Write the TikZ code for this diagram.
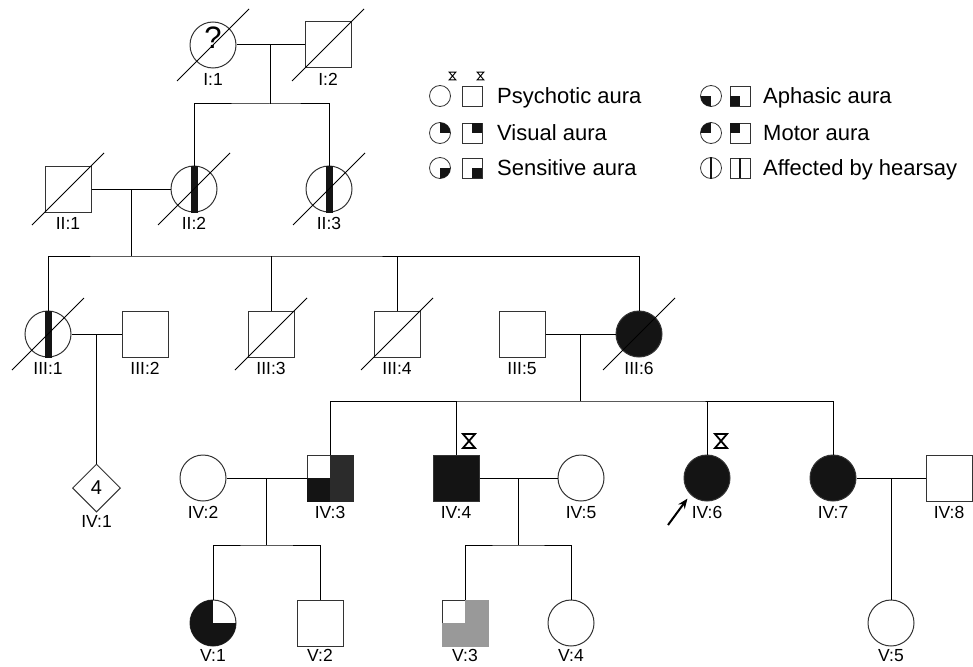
\documentclass[tikz,border=0pt]{standalone}
\usepackage{fontspec}
\setmainfont{Liberation Sans}
\usepackage{tikz}
\usetikzlibrary{positioning,shapes,arrows,arrows.meta,calc}
\definecolor{affblack}{rgb}{0.08,0.08,0.08}
\definecolor{affdark}{rgb}{0.17,0.17,0.17}
\definecolor{affgray}{rgb}{0.6,0.6,0.6}
\definecolor{lineg}{rgb}{0.2,0.2,0.2}
\tikzstyle{male}=[%
      rectangle, draw=lineg, line width=1pt, fill=none,
      minimum size=46pt, inner sep=0pt
]
\tikzstyle{female}=[%
      circle, draw=lineg, line width=1pt, fill=none,
      minimum size=46pt, inner sep=0pt
]
\tikzstyle{sexless}=[%
      diamond, draw=lineg, line width=1pt, aspect=1,
      minimum size=48pt, inner sep=0pt, font=\fontsize{20}{20}\selectfont
]
\tikzstyle{lmale}=[male, minimum size=20pt, line width=0.8pt]
\tikzstyle{lfemale}=[female, minimum size=21pt, line width=0.8pt]
\tikzstyle{idlbl}=[font=\fontsize{17.5}{20}\selectfont, inner sep=2pt]
\tikzstyle{legtext}=[font=\fontsize{22}{24}\selectfont, anchor=base west, inner sep=0pt]
\tikzstyle{rel}=[line width=1pt, draw=black]
\tikzstyle{dead}=[line width=0.8pt, draw=black]
\tikzstyle{aff}=[fill=affblack]
\tikzset{hglass/.pic={\draw[line join=miter] (-6,-7) -- (6,-7) -- (-6,7) -- (6,7) -- cycle;}}

\begin{document}
\begin{tikzpicture}[x=1pt, y=-1pt, >={Stealth[length=10pt,width=8pt]}]
    \useasboundingbox (0,0) rectangle (973,666);

    % generation I
    \node[female] (I1) at (213,45) {};
    \node[male]   (I2) at (328,45) {};
    \node[font=\fontsize{31}{31}\selectfont, inner sep=0pt] (I1q) at (213,38) {?};

    % generation II
    \node[male]   (II1) at (68,189) {};
    \node[female] (II2) at (194,189) {};
    \node[female] (II3) at (329,189) {};

    % generation III
    \node[female]      (III1) at (48,334) {};
    \node[male]        (III2) at (145,334) {};
    \node[male]        (III3) at (271,334) {};
    \node[male]        (III4) at (397,334) {};
    \node[male]        (III5) at (522,334) {};
    \node[female, aff] (III6) at (639,334) {};

    % generation IV
    \node[sexless]     (IV1) at (96.5,488) {4};
    \node[female]      (IV2) at (203,478) {};
    \node[male]        (IV3) at (330,478) {};
    \node[male, aff]   (IV4) at (456,478) {};
    \node[female]      (IV5) at (581,478) {};
    \node[female, aff] (IV6) at (707,478) {};
    \node[female, aff] (IV7) at (833,478) {};
    \node[male]        (IV8) at (949,478) {};

    % generation V
    \node[female] (V1) at (213,623) {};
    \node[male]   (V2) at (320,623) {};
    \node[male]   (V3) at (465,623) {};
    \node[female] (V4) at (571,623) {};
    \node[female] (V5) at (891,623) {};

    % ids
    \node[idlbl] (I1l)   [below=3pt of I1]   {I:1};
    \node[idlbl] (I2l)   [below=3pt of I2]   {I:2};
    \node[idlbl] (II1l)  [below=3pt of II1]  {II:1};
    \node[idlbl] (II2l)  [below=3pt of II2]  {II:2};
    \node[idlbl] (II3l)  [below=3pt of II3]  {II:3};
    \node[idlbl] (III1l) [below=3pt of III1] {III:1};
    \node[idlbl] (III2l) [below=3pt of III2] {III:2};
    \node[idlbl] (III3l) [below=3pt of III3] {III:3};
    \node[idlbl] (III4l) [below=3pt of III4] {III:4};
    \node[idlbl] (III5l) [below=3pt of III5] {III:5};
    \node[idlbl] (III6l) [below=3pt of III6] {III:6};
    \node[idlbl] (IV1l)  [below=1pt of IV1]  {IV:1};
    \node[idlbl] (IV2l)  [below=3pt of IV2]  {IV:2};
    \node[idlbl] (IV3l)  [below=3pt of IV3]  {IV:3};
    \node[idlbl] (IV4l)  [below=3pt of IV4]  {IV:4};
    \node[idlbl] (IV5l)  [below=3pt of IV5]  {IV:5};
    \node[idlbl] (IV6l)  [below=3pt of IV6]  {IV:6};
    \node[idlbl] (IV7l)  [below=3pt of IV7]  {IV:7};
    \node[idlbl] (IV8l)  [below=3pt of IV8]  {IV:8};
    \node[idlbl] (V1l)   [below=1pt of V1]   {V:1};
    \node[idlbl] (V2l)   [below=1pt of V2]   {V:2};
    \node[idlbl] (V3l)   [below=1pt of V3]   {V:3};
    \node[idlbl] (V4l)   [below=1pt of V4]   {V:4};
    \node[idlbl] (V5l)   [below=1pt of V5]   {V:5};

    % partial fills
    \fill[affblack] ($(II2.north)+(-3.5,0)$) rectangle ($(II2.south)+(3.5,0)$);
    \fill[affblack] ($(II3.north)+(-3.5,0)$) rectangle ($(II3.south)+(3.5,0)$);
    \fill[affblack] ($(III1.north)+(-3.5,0)$) rectangle ($(III1.south)+(3.5,0)$);
    \fill[affblack] (IV3.west) rectangle (IV3.south);
    \fill[affdark] (IV3.north) rectangle (IV3.south east);
    \fill[affgray] (V3.west) rectangle (V3.south);
    \fill[affgray] (V3.north) rectangle (V3.south east);
    \begin{scope}
      \clip (V1) circle (23pt);
      \fill[affblack] ($(V1)+(-25,-25)$) rectangle ($(V1)+(0,25)$);
      \fill[affblack] (V1.center) rectangle ($(V1)+(25,25)$);
    \end{scope}

    % deceased
    \foreach \p in {I1,I2,II1,II2,II3,III1,III3,III4,III6}
      \draw[dead] ($(\p)+(-36,36)$) -- ($(\p)+(36,-36)$);

    % lines of descent
    \draw[rel] (I1.east) -- (I2.west);
    \coordinate (m1) at ($(I1.east)!0.5!(I2.west)$);
    \coordinate (s1) at ($(m1)+(0,59)$);
    \draw[rel] (m1) -- (s1);
    \draw[rel] (II2.north) |- (s1) -| (II3.north);

    \draw[rel] (II1.east) -- (II2.west);
    \coordinate (m2) at ($(II1.east)!0.5!(II2.west)$);
    \coordinate (s2) at ($(m2)+(0,67)$);
    \draw[rel] (m2) -- (s2);
    \draw[rel] (III1.north) |- (s2) -| (III6.north);
    \draw[rel] (III3.north) -- (III3.north |- s2);
    \draw[rel] (III4.north) -- (III4.north |- s2);

    \draw[rel] (III1.east) -- (III2.west);
    \coordinate (m3) at ($(III1.east)!0.5!(III2.west)$);
    \draw[rel] (m3) -- (IV1.north);

    \draw[rel] (III5.east) -- (III6.west);
    \coordinate (m4) at ($(III5.east)!0.5!(III6.west)$);
    \coordinate (s3) at ($(m4)+(0,67)$);
    \draw[rel] (m4) -- (s3);
    \draw[rel] (IV3.north) |- (s3) -| (IV7.north);
    \draw[rel] (IV4.north) -- (IV4.north |- s3);
    \draw[rel] (IV6.north) -- (IV6.north |- s3);

    \draw[rel] (IV2.east) -- (IV3.west);
    \coordinate (m5) at ($(IV2.east)!0.5!(IV3.west)$);
    \coordinate (s4) at ($(m5)+(0,67)$);
    \draw[rel] (m5) -- (s4);
    \draw[rel] (V1.north) |- (s4) -| (V2.north);

    \draw[rel] (IV4.east) -- (IV5.west);
    \coordinate (m6) at ($(IV4.east)!0.5!(IV5.west)$);
    \coordinate (s5) at ($(m6)+(0,67)$);
    \draw[rel] (m6) -- (s5);
    \draw[rel] (V3.north) |- (s5) -| (V4.north);

    \draw[rel] (IV7.east) -- (IV8.west);
    \coordinate (m7) at ($(IV7.east)!0.5!(IV8.west)$);
    \draw[rel] (m7) -- (V5.north);

    % psychotic aura and proband
    \pic[line width=1.8pt] at (469,441) {hglass};
    \pic[line width=1.8pt] at (721,441) {hglass};
    \coordinate (prb) at (668,525);
    \draw[->, line width=2pt, shorten >=5pt] (prb) -- (IV6.south west);

    % legend
    \node[lfemale] (lgPsyF) at (440,96) {};
    \node[lmale]   (lgPsyM) at (472,96) {};
    \node[legtext] (lgPsy)  at (497,103) {Psychotic aura};
    \pic[scale=0.55, line width=0.9pt] at (452.5,76) {hglass};
    \pic[scale=0.55, line width=0.9pt] at (480.5,76) {hglass};

    \node[lfemale] (lgVisF) at (440,133) {};
    \node[lmale]   (lgVisM) at (472,133) {};
    \node[legtext] (lgVis)  at (497,140) {Visual aura};
    \begin{scope}
      \clip (lgVisF) circle (10.5pt);
      \fill[affblack] (lgVisF.center) rectangle ($(lgVisF)+(11,-11)$);
    \end{scope}
    \fill[affblack] (lgVisM.center) rectangle (lgVisM.north east);

    \node[lfemale] (lgSenF) at (440,168) {};
    \node[lmale]   (lgSenM) at (472,168) {};
    \node[legtext] (lgSen)  at (497,175) {Sensitive aura};
    \begin{scope}
      \clip (lgSenF) circle (10.5pt);
      \fill[affblack] (lgSenF.center) rectangle ($(lgSenF)+(11,11)$);
    \end{scope}
    \fill[affblack] (lgSenM.center) rectangle (lgSenM.south east);

    \node[lfemale] (lgAphF) at (711,96) {};
    \node[lmale]   (lgAphM) at (740,96) {};
    \node[legtext] (lgAph)  at (763,103) {Aphasic aura};
    \begin{scope}
      \clip (lgAphF) circle (10.5pt);
      \fill[affblack] (lgAphF.center) rectangle ($(lgAphF)+(-11,11)$);
    \end{scope}
    \fill[affblack] (lgAphM.center) rectangle (lgAphM.south west);

    \node[lfemale] (lgMotF) at (711,133) {};
    \node[lmale]   (lgMotM) at (740,133) {};
    \node[legtext] (lgMot)  at (763,140) {Motor aura};
    \begin{scope}
      \clip (lgMotF) circle (10.5pt);
      \fill[affblack] (lgMotF.center) rectangle ($(lgMotF)+(-11,-11)$);
    \end{scope}
    \fill[affblack] (lgMotM.center) rectangle (lgMotM.north west);

    \node[lfemale] (lgHeaF) at (711,168) {};
    \node[lmale]   (lgHeaM) at (740,168) {};
    \node[legtext] (lgHea)  at (763,175) {Affected by hearsay};
    \fill[affblack] ($(lgHeaF.north)+(-1.2,0)$) rectangle ($(lgHeaF.south)+(1.2,0)$);
    \fill[affblack] ($(lgHeaM.north)+(-1.2,0)$) rectangle ($(lgHeaM.south)+(1.2,0)$);
\end{tikzpicture}
\end{document}
